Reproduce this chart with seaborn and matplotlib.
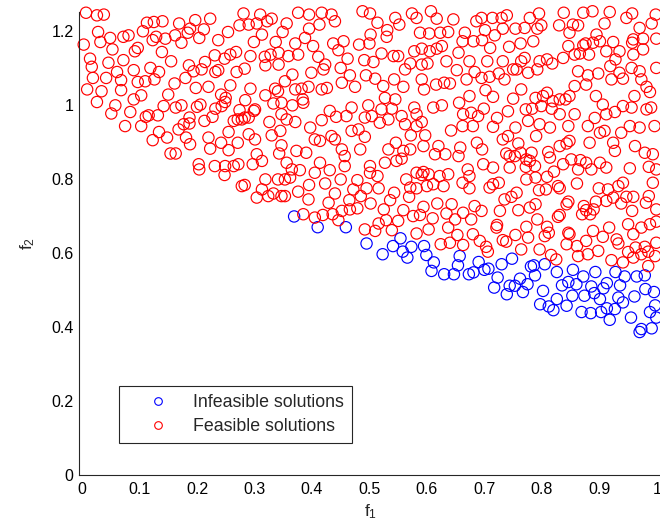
import matplotlib
matplotlib.use("Agg")
import matplotlib.pyplot as plt
import pandas as pd
import seaborn as sns
from matplotlib.lines import Line2D

# ---------------- data ----------------
series_labels = ["Infeasible solutions", "Feasible solutions"]
series_colors = ["#0000ff", "#ff0000"]

infeasible_points = [
    (.369, .698), (.410, .669), (.459, .669), (.495, .625), (.523, .596), (.541, .618),
    (.554, .639), (.558, .603), (.566, .587), (.573, .616), (.595, .618), (.599, .594),
    (.612, .574), (.608, .551), (.630, .542), (.647, .542), (.657, .591), (.654, .566),
    (.673, .542), (.681, .547), (.690, .575), (.700, .554), (.707, .557), (.730, .569),
    (.748, .584), (.723, .533), (.717, .506), (.739, .488), (.744, .511), (.753, .511),
    (.762, .530), (.775, .515), (.767, .494), (.781, .563), (.786, .566), (.788, .539),
    (.805, .569), (.802, .497), (.797, .461), (.812, .455), (.820, .445), (.826, .475),
    (.826, .548), (.854, .554), (.872, .536), (.846, .521), (.835, .512), (.860, .515),
    (.853, .484), (.843, .457), (.874, .484), (.886, .509), (.891, .491), (.901, .475),
    (.907, .504), (.913, .518), (.893, .548), (.928, .548), (.944, .536), (.936, .512),
    (.933, .479), (.941, .466), (.961, .482), (.965, .536), (.979, .539), (.980, .502),
    (.995, .494), (.997, .458), (.988, .440), (.999, .425), (.869, .440), (.885, .437),
    (.903, .440), (.913, .450), (.927, .448), (.918, .419), (.955, .425), (.973, .394),
    (.970, .386), (.991, .396),
]

feasible_points = [
    # left block, top
    (.007, 1.248), (.026, 1.241), (.038, 1.243), (.281, 1.246), (.310, 1.243), (.330, 1.232),
    (.322, 1.225), (.304, 1.219), (.290, 1.216), (.113, 1.221), (.125, 1.223), (.140, 1.225),
    (.169, 1.219), (.197, 1.228), (.223, 1.232), (.188, 1.205), (.212, 1.203), (.274, 1.214),
    (.028, 1.196), (.049, 1.180), (.072, 1.183), (.081, 1.187), (.106, 1.198), (.129, 1.183),
    (.123, 1.174), (.145, 1.178), (.162, 1.187), (.173, 1.167), (.184, 1.194), (.204, 1.180),
    (.237, 1.174), (.254, 1.196), (.299, 1.169), (.313, 1.189), (.337, 1.169), (.003, 1.162),
    (.032, 1.169), (.053, 1.149), (.092, 1.144), (.097, 1.153), (.139, 1.142), (.155, 1.117),
    (.186, 1.106), (.214, 1.115), (.231, 1.133), (.248, 1.124), (.258, 1.135), (.268, 1.142),
    (.293, 1.131), (.318, 1.129), (.328, 1.135), (.342, 1.140), (.014, 1.124), (.017, 1.102),
    (.046, 1.113), (.072, 1.120), (.061, 1.088), (.090, 1.093), (.119, 1.099), (.134, 1.088),
    (.194, 1.090), (.208, 1.095), (.232, 1.088), (.237, 1.093), (.269, 1.088), (.283, 1.097),
    (.319, 1.106), (.342, 1.108), (.019, 1.072), (.042, 1.072), (.068, 1.066), (.097, 1.061),
    (.110, 1.063), (.126, 1.068), (.161, 1.057), (.180, 1.072), (.198, 1.045), (.220, 1.048),
    (.258, 1.052), (.293, 1.043), (.336, 1.043), (.341, 1.036), (.009, 1.041), (.034, 1.036),
    (.068, 1.039), (.150, 1.027), (.103, 1.025), (.090, 1.014), (.242, 1.027), (.250, 1.018),
    (.284, 1.012), (.301, .987), (.319, 1.025), (.333, 1.003), (.347, 1.005), (.026, 1.007),
    (.058, .998), (.051, .976), (.084, .980), (.142, .996), (.163, .992), (.173, .998),
    (.200, .994), (.206, 1.000), (.232, .989), (.243, .996), (.249, 1.007), (.274, .985),
    (.283, .965), (.271, .960), (.290, .965), (.299, .983), (.326, .953), (.347, .974),
    (.075, .942), (.103, .942), (.111, .967), (.116, .971), (.132, .971), (.187, .965),
    (.213, .956), (.227, .967), (.177, .947), (.187, .949), (.168, .933), (.264, .956),
    (.278, .960), (.123, .904), (.134, .926), (.148, .911), (.181, .911), (.188, .893),
    (.220, .911), (.223, .881), (.242, .897), (.255, .926), (.255, .877), (.271, .897),
    (.290, .920), (.301, .906), (.330, .917), (.347, .890), (.345, .929), (.154, .868),
    (.163, .868), (.203, .839), (.204, .825), (.231, .834), (.249, .834), (.264, .834),
    (.272, .839), (.304, .866), (.313, .848), (.297, .839), (.343, .868),
    # left block, lower edge
    (.248, .810), (.319, .798), (.341, .798), (.278, .780), (.283, .783), (.313, .771),
    (.304, .749), (.324, .753), (.333, .760), (.347, .753),
    # middle block, top
    (.376, 1.248), (.395, 1.243), (.417, 1.248), (.434, 1.243), (.440, 1.225), (.488, 1.252),
    (.501, 1.246), (.514, 1.221), (.545, 1.234), (.552, 1.216), (.574, 1.246), (.582, 1.234),
    (.607, 1.252), (.617, 1.232), (.646, 1.230), (.356, 1.219), (.349, 1.196), (.395, 1.205),
    (.413, 1.216), (.388, 1.180), (.371, 1.165), (.402, 1.158), (.437, 1.165), (.455, 1.171),
    (.446, 1.147), (.482, 1.162), (.500, 1.165), (.502, 1.189), (.531, 1.201), (.530, 1.183),
    (.588, 1.194), (.604, 1.192), (.623, 1.194), (.637, 1.196), (.666, 1.194), (.662, 1.171),
    (.578, 1.144), (.591, 1.151), (.605, 1.144), (.617, 1.151), (.626, 1.158), (.655, 1.140),
    (.359, 1.131), (.376, 1.135), (.411, 1.129), (.423, 1.108), (.462, 1.124), (.450, 1.099),
    (.491, 1.120), (.507, 1.115), (.521, 1.138), (.542, 1.131), (.550, 1.131), (.562, 1.095),
    (.571, 1.111), (.591, 1.108), (.601, 1.111), (.634, 1.117), (.652, 1.093), (.674, 1.117),
    (.366, 1.081), (.353, 1.063), (.399, 1.086), (.420, 1.095), (.466, 1.079), (.452, 1.059),
    (.494, 1.079), (.510, 1.070), (.543, 1.068), (.524, 1.050), (.559, 1.048), (.591, 1.068),
    (.595, 1.041), (.616, 1.054), (.630, 1.059), (.640, 1.057), (.669, 1.068), (.371, 1.041),
    (.382, 1.043), (.394, 1.048), (.417, 1.041), (.426, 1.045), (.475, 1.048), (.366, .998),
    (.385, 1.005), (.384, 1.014), (.431, .983), (.442, .967), (.460, .969), (.469, .992),
    (.498, .998), (.504, .969), (.521, .987), (.539, .989), (.527, 1.018), (.545, 1.014),
    (.578, .992), (.582, .974), (.611, .992), (.626, .998), (.656, 1.005), (.663, .974),
    (.674, 1.023), (.356, .960), (.371, .953), (.397, .938), (.417, .958), (.469, .929),
    (.481, .933), (.492, .965), (.492, .913), (.518, .951), (.533, .960), (.556, .969),
    (.562, .947), (.572, .917), (.597, .917), (.591, .953), (.582, .942), (.642, .930),
    (.662, .942), (.373, .875), (.390, .870), (.405, .906), (.414, .902), (.434, .915),
    (.440, .906), (.452, .879), (.457, .861), (.484, .879), (.533, .879), (.546, .897),
    (.559, .875), (.547, .848), (.556, .854), (.571, .879), (.594, .888), (.620, .888),
    (.614, .866), (.632, .866), (.658, .884), (.655, .861), (.356, .843), (.365, .825),
    (.414, .843), (.431, .823), (.457, .834), (.501, .834), (.501, .816), (.527, .843),
    (.582, .816), (.594, .818),
    # right block, top
    (.686, 1.225), (.695, 1.234), (.714, 1.234), (.730, 1.234), (.739, 1.241), (.779, 1.234),
    (.795, 1.246), (.838, 1.248), (.872, 1.248), (.888, 1.252), (.918, 1.250), (.947, 1.234),
    (.957, 1.246), (.998, 1.243), (.681, 1.171), (.701, 1.201), (.718, 1.187), (.732, 1.205),
    (.754, 1.205), (.770, 1.207), (.792, 1.205), (.799, 1.214), (.830, 1.214), (.848, 1.194),
    (.854, 1.216), (.863, 1.214), (.895, 1.189), (.909, 1.219), (.970, 1.207), (.991, 1.219),
    (.999, 1.178), (.976, 1.178), (.959, 1.176), (.696, 1.174), (.710, 1.153), (.743, 1.156),
    (.763, 1.165), (.785, 1.171), (.846, 1.158), (.872, 1.160), (.876, 1.165), (.889, 1.167),
    (.901, 1.171), (.924, 1.169), (.957, 1.167), (.976, 1.149), (.705, 1.117), (.732, 1.117),
    (.750, 1.095), (.764, 1.117), (.770, 1.126), (.796, 1.117), (.809, 1.122), (.818, 1.111),
    (.837, 1.126), (.857, 1.135), (.866, 1.138), (.882, 1.135), (.912, 1.144), (.928, 1.122),
    (.935, 1.144), (.959, 1.135), (.999, 1.099), (.683, 1.088), (.695, 1.072), (.709, 1.075),
    (.725, 1.084), (.735, 1.068), (.756, 1.095), (.776, 1.086), (.792, 1.095), (.863, 1.090),
    (.880, 1.079), (.877, 1.054), (.898, 1.084), (.919, 1.104), (.921, 1.068), (.935, 1.086),
    (.941, 1.070), (.956, 1.099), (.970, 1.090), (.973, 1.068), (.702, 1.039), (.715, 1.021),
    (.750, 1.016), (.764, 1.041), (.789, 1.018), (.802, 1.023), (.809, 1.032), (.819, 1.009),
    (.831, 1.014), (.841, 1.014), (.848, 1.023), (.857, 1.050), (.894, 1.023), (.906, 1.000),
    (.961, 1.023), (.982, 1.048), (.988, 1.034), (.677, .978), (.689, .969), (.699, .989),
    (.722, .964), (.741, .982), (.772, .987), (.783, .989), (.799, .996), (.817, .989),
    (.831, .974), (.857, .974), (.892, .964), (.912, .974), (.927, .980), (.941, .996),
    (.956, .992), (.982, .987), (.990, .992), (.680, .942), (.715, .940), (.754, .938),
    (.776, .956), (.796, .947), (.814, .938), (.846, .942), (.880, .942), (.901, .924),
    (.909, .929), (.938, .924), (.953, .942), (.970, .938), (.996, .942), (.687, .897),
    (.696, .879), (.732, .906), (.741, .915), (.759, .895), (.790, .915), (.811, .872),
    (.831, .888), (.843, .895), (.848, .902), (.883, .897), (.924, .897), (.927, .875),
    (.962, .888), (.979, .870), (.993, .866), (.698, .839), (.715, .830), (.738, .868),
    (.744, .861), (.753, .861), (.763, .870), (.773, .852), (.782, .870), (.779, .848),
    (.814, .857), (.837, .839), (.851, .852), (.867, .850), (.901, .843), (.877, .843),
    (.886, .825), (.912, .830), (.999, .825),
    # middle block, lower part
    (.379, .823), (.405, .816), (.353, .798), (.362, .803), (.353, .753), (.376, .765),
    (.395, .783), (.394, .744), (.423, .787), (.440, .760), (.450, .798), (.479, .796),
    (.495, .774), (.485, .753), (.472, .771), (.514, .807), (.516, .774), (.502, .733),
    (.543, .762), (.536, .742), (.564, .798), (.571, .776), (.582, .774), (.569, .751),
    (.591, .810), (.603, .812), (.600, .780), (.611, .785), (.622, .807), (.637, .812),
    (.629, .780), (.662, .789), (.385, .704), (.405, .695), (.419, .702), (.429, .735),
    (.436, .704), (.446, .688), (.452, .713), (.465, .742), (.466, .717), (.479, .720),
    (.525, .717), (.529, .688), (.550, .686), (.516, .679), (.492, .663), (.510, .659),
    (.539, .661), (.559, .715), (.576, .699), (.588, .702), (.594, .724), (.610, .693),
    (.618, .733), (.643, .731), (.634, .706), (.649, .690), (.663, .708), (.582, .652),
    (.603, .663), (.624, .623), (.640, .627), (.637, .668), (.653, .648), (.663, .621),
    # right block, lower part
    (.671, .825), (.674, .807), (.674, .774), (.744, .830), (.772, .832), (.788, .834),
    (.821, .819), (.863, .825), (.953, .828), (.986, .832), (.715, .785), (.725, .789),
    (.709, .776), (.773, .798), (.789, .803), (.809, .805), (.807, .771), (.795, .769),
    (.828, .780), (.831, .774), (.861, .787), (.899, .774), (.915, .771), (.933, .780),
    (.941, .789), (.959, .751), (.986, .753), (.993, .789), (.683, .726), (.695, .713),
    (.677, .690), (.727, .713), (.735, .744), (.747, .751), (.756, .762), (.759, .715),
    (.779, .722), (.789, .731), (.792, .690), (.809, .670), (.828, .697), (.831, .702),
    (.843, .731), (.846, .738), (.873, .726), (.877, .715), (.894, .738), (.890, .717),
    (.870, .704), (.884, .704), (.912, .740), (.924, .749), (.938, .733), (.947, .751),
    (.957, .713), (.981, .735), (.999, .717), (.680, .650), (.692, .632), (.703, .616),
    (.706, .603), (.722, .675), (.721, .668), (.732, .634), (.738, .630), (.754, .648),
    (.773, .670), (.776, .641), (.764, .609), (.796, .609), (.805, .645), (.812, .654),
    (.816, .594), (.825, .582), (.843, .623), (.846, .654), (.848, .650), (.861, .618),
    (.863, .591), (.877, .632), (.880, .596), (.889, .659), (.906, .643), (.917, .668),
    (.930, .636), (.933, .625), (.950, .677), (.959, .650), (.973, .668), (.988, .677),
    (.999, .684), (.979, .616), (.963, .614), (.973, .596), (.985, .603), (.999, .627),
    (.921, .580), (.941, .574), (.959, .587), (.985, .564), (.898, .605), (.950, .602),
    (.997, .591),
]

x_ticks = [0, 0.1, 0.2, 0.3, 0.4, 0.5, 0.6, 0.7, 0.8, 0.9, 1.0]
x_tick_labels = ["0", "0.1", "0.2", "0.3", "0.4", "0.5", "0.6", "0.7", "0.8", "0.9", "1"]
y_ticks = [0, 0.2, 0.4, 0.6, 0.8, 1.0, 1.2]
y_tick_labels = ["0", "0.2", "0.4", "0.6", "0.8", "1", "1.2"]

# ---------------- styling ----------------
sns.set_style("white")
plt.rcParams["font.family"] = ["Liberation Sans", "DejaVu Sans"]
plt.rcParams["mathtext.fontset"] = "custom"
plt.rcParams["mathtext.rm"] = "Liberation Sans"
plt.rcParams["mathtext.it"] = "Liberation Sans:italic"

fig = plt.figure(figsize=(6.6, 5.27), dpi=100)
ax = fig.add_axes([79 / 660, 52 / 527, 606.6 / 660, 463 / 527])

frames = []
for lab, pts in zip(series_labels, [infeasible_points, feasible_points]):
    d = pd.DataFrame(pts, columns=["f1", "f2"])
    d["kind"] = lab
    frames.append(d)

for d, col in zip(frames, series_colors):
    sns.scatterplot(data=d, x="f1", y="f2", ax=ax, marker="o", s=66,
                    color=col, facecolor="none", edgecolor=col,
                    linewidth=0.85, legend=False, clip_on=False)

ax.set_xlim(-0.0052, 1.05)
ax.set_ylim(0, 1.25)
ax.set_xticks(x_ticks, labels=x_tick_labels)
ax.set_yticks(y_ticks, labels=y_tick_labels)
ax.tick_params(direction="in", length=4, width=0.8, colors="#262626",
               labelsize=11.5, labelcolor="black")
ax.tick_params(axis="x", pad=5)
ax.tick_params(axis="y", pad=4)
for side in ["top", "right"]:
    ax.spines[side].set_visible(False)
for side in ["left", "bottom"]:
    ax.spines[side].set_color("#262626")
    ax.spines[side].set_linewidth(0.8)

ax.set_xlabel(r"$\mathrm{f}_1$", fontsize=12.5)
ax.set_ylabel(r"$\mathrm{f}_2$", fontsize=12.5)
ax.xaxis.set_label_coords(0.48, -0.06)
ax.yaxis.set_label_coords(-0.07, 0.5)

handles = [Line2D([], [], linestyle="none", marker="o", markersize=5.5,
                  markerfacecolor="none", markeredgecolor=c, markeredgewidth=0.8)
           for c in series_colors]
leg = fig.legend(handles, series_labels, loc="upper left",
                 bbox_to_anchor=(118.6 / 660, 1 - 386 / 527),
                 frameon=True, fancybox=False, framealpha=1, fontsize=12.8,
                 handlelength=3.5, handletextpad=0.25, borderpad=0.45,
                 labelspacing=0.42, borderaxespad=0)
leg.get_frame().set_edgecolor("#262626")
leg.get_frame().set_linewidth(0.8)

fig.savefig("out.png", dpi=100)
